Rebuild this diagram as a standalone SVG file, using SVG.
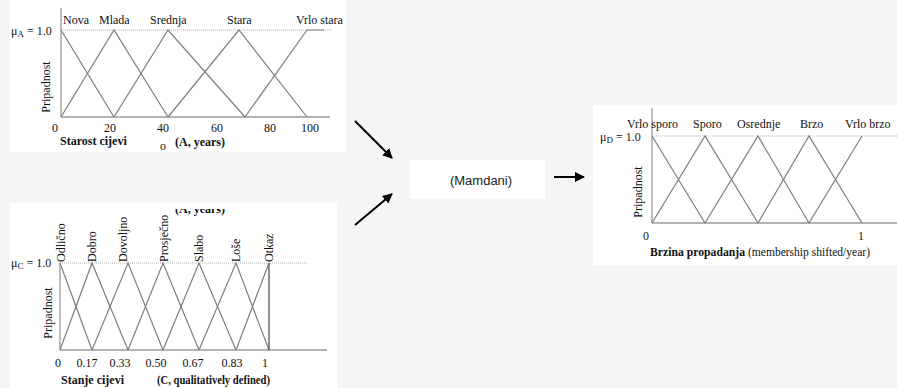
<svg xmlns="http://www.w3.org/2000/svg" width="897" height="388" viewBox="0 0 897 388">
<defs>
<style>
.bg{fill:#f5f5f5}
.panel{fill:#ffffff}
.mf{fill:none;stroke:#7d7d7d;stroke-width:1.2}
.ax{fill:none;stroke:#9a9a9a;stroke-width:1.3}
.dot{fill:none;stroke:#b0b0b0;stroke-width:1;stroke-dasharray:1,1}
.t{font-family:"Liberation Serif","Times New Roman",serif;font-size:12px;fill:#111}
.tb{font-family:"Liberation Serif","Times New Roman",serif;font-size:12px;font-weight:bold;fill:#111}
.ts{font-family:"Liberation Sans",Arial,sans-serif;font-size:13px;fill:#222}
.arr{fill:none;stroke:#000;stroke-width:2}
</style>
<marker id="ah" viewBox="0 0 10 10" refX="9" refY="5" markerWidth="5" markerHeight="5" orient="auto" markerUnits="strokeWidth">
<path d="M0,0 L10,5 L0,10 z" fill="#000"/>
</marker>
<clipPath id="clipB"><rect x="0" y="209" width="897" height="179"/></clipPath>
</defs>

<rect class="bg" x="0" y="0" width="897" height="388"/>

<g id="chartA">
<rect class="panel" x="10" y="0" width="336" height="152"/>
<line class="ax" x1="61" y1="8" x2="61" y2="117"/>
<line class="ax" x1="61" y1="117" x2="330" y2="117"/>
<line class="dot" x1="61" y1="30" x2="333" y2="30"/>
<polyline class="mf" points="61,30 114,117"/>
<polyline class="mf" points="61,117 114,30 168,117"/>
<polyline class="mf" points="114,117 168,30 245,117"/>
<polyline class="mf" points="168,117 239,30 307,117"/>
<polyline class="mf" points="245,117 307,30 324,30"/>
<text class="t" x="11" y="35">μ<tspan font-size="9" dy="2">A</tspan><tspan dy="-2"> = 1.0</tspan></text>
<text class="t" x="63" y="24">Nova</text>
<text class="t" x="99" y="24">Mlada</text>
<text class="t" x="150" y="24">Srednja</text>
<text class="t" x="227" y="24">Stara</text>
<text class="t" x="296" y="24">Vrlo stara</text>
<text class="t" transform="translate(50,87) rotate(-90)" text-anchor="middle">Pripadnost</text>
<text class="t" x="55" y="132" text-anchor="middle">0</text>
<text class="t" x="110" y="132" text-anchor="middle">20</text>
<text class="t" x="163" y="132" text-anchor="middle">40</text>
<text class="t" x="217" y="132" text-anchor="middle">60</text>
<text class="t" x="270" y="132" text-anchor="middle">80</text>
<text class="t" x="310" y="132" text-anchor="middle">100</text>
<text class="tb" x="60" y="145">Starost cijevi</text>
<text class="t" x="160" y="150" font-size="10">o</text>
<text class="tb" x="175" y="146" font-size="11">(A, years)</text>
</g>

<g id="chartC">
<rect class="panel" x="10" y="203" width="327" height="185"/>
<text class="tb" x="175" y="213" font-size="11" clip-path="url(#clipB)">(A, years)</text>
<line class="ax" x1="60" y1="263" x2="60" y2="350"/>
<line class="ax" x1="60" y1="350" x2="327" y2="350"/>
<line class="dot" x1="60" y1="263" x2="307" y2="263"/>
<polyline class="mf" points="60,263 92,350"/>
<polyline class="mf" points="60,350 92,263 128,350"/>
<polyline class="mf" points="92,350 128,263 163,350"/>
<polyline class="mf" points="128,350 163,263 199,350"/>
<polyline class="mf" points="163,350 199,263 236,350"/>
<polyline class="mf" points="199,350 236,263 269,350"/>
<polyline class="mf" points="236,350 269,263"/>
<line x1="269" y1="263" x2="269" y2="350" stroke="#555" stroke-width="1.3"/>
<text class="t" x="11" y="267">μ<tspan font-size="9" dy="2">C</tspan><tspan dy="-2"> = 1.0</tspan></text>
<text class="t" font-size="13" transform="translate(65,262) rotate(-90)">Odlično</text>
<text class="t" font-size="13" transform="translate(96,262) rotate(-90)">Dobro</text>
<text class="t" font-size="13" transform="translate(127,262) rotate(-90)">Dovoljno</text>
<text class="t" font-size="13" transform="translate(168,262) rotate(-90)">Prosječno</text>
<text class="t" font-size="13" transform="translate(203,262) rotate(-90)">Slabo</text>
<text class="t" font-size="13" transform="translate(239.5,262) rotate(-90)">Loše</text>
<text class="t" font-size="13" transform="translate(273,262) rotate(-90)">Otkaz</text>
<text class="t" font-size="13" transform="translate(52,313) rotate(-90)" text-anchor="middle">Pripadnost</text>
<text class="t" font-size="13" x="58" y="367" text-anchor="middle">0</text>
<text class="t" font-size="13" x="87" y="367" text-anchor="middle">0.17</text>
<text class="t" font-size="13" x="120" y="367" text-anchor="middle">0.33</text>
<text class="t" font-size="13" x="156" y="367" text-anchor="middle">0.50</text>
<text class="t" font-size="13" x="193" y="367" text-anchor="middle">0.67</text>
<text class="t" font-size="13" x="232" y="367" text-anchor="middle">0.83</text>
<text class="t" font-size="13" x="265" y="367" text-anchor="middle">1</text>
<text class="tb" x="61" y="384">Stanje cijevi</text>
<text class="tb" x="157" y="384" textLength="113" lengthAdjust="spacingAndGlyphs">(C, qualitatively defined)</text>
</g>

<g id="mamdani">
<rect class="panel" x="410" y="160" width="135" height="39"/>
<text class="ts" x="481" y="185" text-anchor="middle">(Mamdani)</text>
</g>

<g id="chartD">
<rect class="panel" x="593" y="105" width="304" height="160"/>
<line class="ax" x1="652" y1="108" x2="652" y2="223"/>
<line class="ax" x1="652" y1="223" x2="897" y2="223"/>
<line class="dot" x1="652" y1="136" x2="897" y2="136"/>
<polyline class="mf" points="652,136 705,223"/>
<polyline class="mf" points="652,223 705,136 758,223"/>
<polyline class="mf" points="705,223 758,136 809,223"/>
<polyline class="mf" points="758,223 809,136 862,223"/>
<polyline class="mf" points="809,223 862,136"/>
<text class="t" x="600" y="141">μ<tspan font-size="9" dy="2">D</tspan><tspan dy="-2"> = 1.0</tspan></text>
<text class="t" x="627" y="128">Vrlo sporo</text>
<text class="t" x="693" y="128">Sporo</text>
<text class="t" x="737" y="128">Osrednje</text>
<text class="t" x="800" y="128">Brzo</text>
<text class="t" x="845" y="128">Vrlo brzo</text>
<text class="t" transform="translate(642,192) rotate(-90)" text-anchor="middle">Pripadnost</text>
<text class="t" x="646" y="240" text-anchor="middle">0</text>
<text class="t" x="861" y="240" text-anchor="middle">1</text>
<text class="tb" x="650" y="256" font-size="11" textLength="95" lengthAdjust="spacingAndGlyphs">Brzina propadanja</text>
<text class="t" x="748" y="256" font-size="11" textLength="122" lengthAdjust="spacingAndGlyphs">(membership shifted/year)</text>
</g>

<g id="connectors">
<line class="arr" x1="355" y1="121" x2="392" y2="158" marker-end="url(#ah)"/>
<line class="arr" x1="355" y1="225" x2="392" y2="194" marker-end="url(#ah)"/>
<line class="arr" x1="554" y1="177" x2="584" y2="177" marker-end="url(#ah)"/>
</g>
</svg>
